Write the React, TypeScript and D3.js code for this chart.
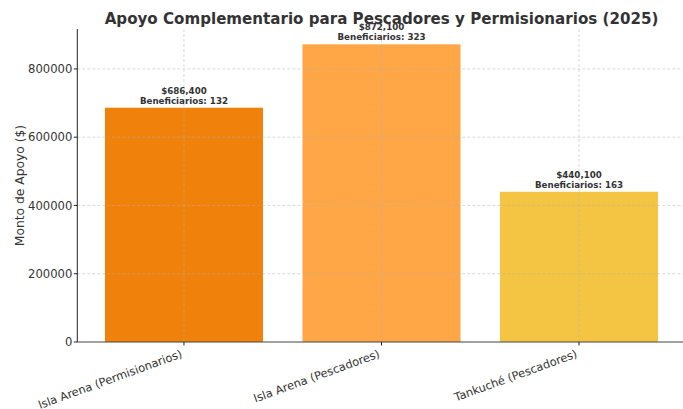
import React from "react";
import * as d3 from "d3";

const categories = ["Isla Arena (Permisionarios)", "Isla Arena (Pescadores)", "Tankuché (Pescadores)"];
const amounts = [686400, 872100, 440100];
const beneficiaries = [132, 323, 163];
const colors = ["#F0820C", "#FFA647", "#F4C443"];
const yTicks = [0, 200000, 400000, 600000, 800000];

const W = 683;
const H = 409;
const FONT = "DejaVu Sans, sans-serif";

export default function App() {
  const x = d3.scaleLinear().domain([-0.54, 2.54]).range([77.3, 685.7]);
  const y = d3.scaleLinear().domain([0, 917000]).range([342, 29]);
  const barW = x(0.4) - x(-0.4);
  const fmt = d3.format(",");
  const x0 = x(-0.54);
  const x1 = x(2.54);

  return (
    <svg width={W} height={H} style={{ position: "absolute", left: 0, top: 0, background: "#fff" }} fontFamily={FONT}>
      <rect width={W} height={H} fill="#fff" />
      {categories.map((c, i) => (
        <rect key={c} x={x(i) - barW / 2} y={y(amounts[i])} width={barW} height={y(0) - y(amounts[i])} fill={colors[i]} />
      ))}
      {/* grid */}
      {yTicks.slice(1).map((t) => (
        <line key={t} x1={x0} x2={x1} y1={y(t)} y2={y(t)} stroke="#b0b0b0" strokeOpacity={0.6} strokeDasharray="3,2" strokeWidth={0.8} />
      ))}
      {categories.map((c, i) => (
        <line key={c} x1={x(i)} x2={x(i)} y1={y(917000)} y2={y(0)} stroke="#b0b0b0" strokeOpacity={0.6} strokeDasharray="3,2" strokeWidth={0.8} />
      ))}
      {/* axes */}
      <line x1={x0} x2={x0} y1={y(917000)} y2={y(0)} stroke="#222" strokeWidth={1} />
      <line x1={x0} x2={x1} y1={y(0)} y2={y(0)} stroke="#444" strokeWidth={1.2} />
      {yTicks.map((t) => (
        <g key={t}>
          <line x1={x0 - 3.5} x2={x0} y1={y(t)} y2={y(t)} stroke="#222" />
          <text x={x0 - 5} y={y(t)} dy="0.36em" textAnchor="end" fontSize={11.6} fill="#333">{t}</text>
        </g>
      ))}
      {categories.map((c, i) => (
        <g key={c}>
          <line x1={x(i)} x2={x(i)} y1={y(0)} y2={y(0) + 3.5} stroke="#222" />
          <text
            transform={`translate(${x(i) - 1},${y(0) + 15}) rotate(-20)`}
            textAnchor="end"
            fontSize={11.4}
            fill="#333"
          >
            {c}
          </text>
        </g>
      ))}
      {/* bar annotations */}
      {categories.map((c, i) => (
        <text key={c} textAnchor="middle" fontSize={8.7} fontWeight="bold" fill="#333">
          <tspan x={x(i)} y={y(amounts[i]) - 14}>${fmt(amounts[i])}</tspan>
          <tspan x={x(i)} y={y(amounts[i]) - 4}>Beneficiarios: {beneficiaries[i]}</tspan>
        </text>
      ))}
      <text x={(x0 + x1) / 2} y={24} textAnchor="middle" fontSize={15.1} fontWeight="bold" fill="#333">
        Apoyo Complementario para Pescadores y Permisionarios (2025)
      </text>
      <text transform={`translate(24,${y(458500)}) rotate(-90)`} textAnchor="middle" fontSize={12.3} fill="#333">
        Monto de Apoyo ($)
      </text>
    </svg>
  );
}
